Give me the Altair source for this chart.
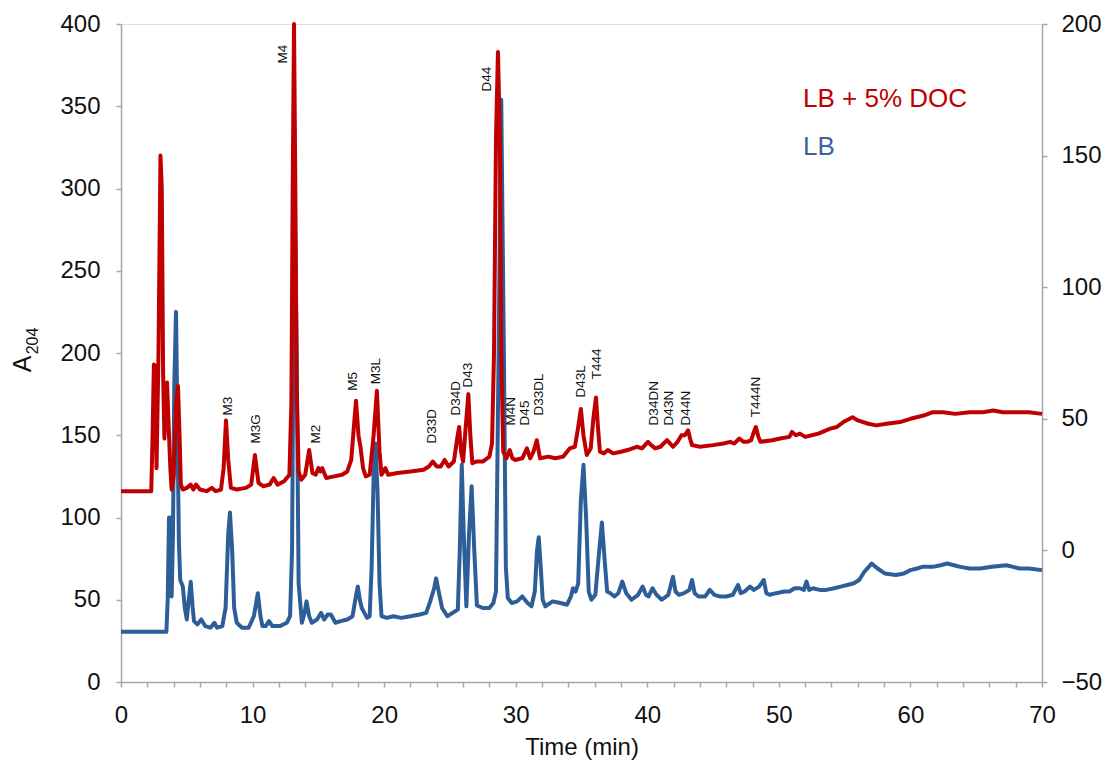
import altair as alt
import pandas as pd

# ---------------- data ----------------
red_time = [0, 2.3, 2.4, 2.5, 2.6, 2.7, 2.85, 3.0, 3.1, 3.2, 3.3, 3.4, 3.5, 3.6, 3.75, 3.85,
            4.0, 4.2, 4.33, 4.45, 4.55, 4.7, 5.0, 5.3, 5.5, 5.7, 6.0, 6.5, 6.9, 7.2, 7.6, 7.8,
            7.98, 8.15, 8.35, 8.8, 9.5, 9.9, 10.18, 10.45, 10.8, 11.3, 11.6, 11.9, 12.4, 12.8,
            12.95, 13.05, 13.15, 13.25, 13.35, 13.5, 13.7, 14.0, 14.3, 14.55, 14.8, 15.0, 15.15,
            15.3, 15.6, 16.2, 16.8, 17.2, 17.5, 17.86, 18.05, 18.2, 18.4, 18.6, 18.9, 19.2, 19.45,
            19.65, 19.8, 20.1, 20.3, 21, 22, 23, 23.4, 23.7, 24.0, 24.3, 24.6, 24.9, 25.3, 25.55,
            25.7, 25.85, 26.0, 26.2, 26.4, 26.55, 26.7, 27.0, 27.5, 28.0, 28.2, 28.35, 28.5, 28.65,
            28.8, 28.9, 29.05, 29.3, 29.55, 29.75, 29.95, 30.5, 30.85, 31.1, 31.35, 31.6, 31.85,
            32.5, 33.0, 33.6, 34.1, 34.5, 34.75, 34.95, 35.15, 35.4, 35.7, 35.9, 36.1, 36.25, 36.4,
            36.7, 37.0, 37.4, 38.0, 38.5, 39.2, 39.6, 40.05, 40.3, 40.6, 41.0, 41.5, 41.95, 42.3,
            42.6, 42.85, 43.1, 43.25, 43.4, 44.0, 45.0, 45.8, 46.3, 46.6, 47.0, 47.3, 47.6, 47.9,
            48.1, 48.25, 48.45, 48.6, 49.5, 50.1, 50.8, 51.0, 51.3, 51.6, 52.0, 52.5, 53.0, 53.9,
            54.4, 54.9, 55.6, 56.0, 56.8, 57.4, 58.2, 59.2, 60.0, 61.0, 61.7, 62.5, 63.4, 64.5,
            65.5, 66.3, 67.0, 68.0, 69.0, 70.0]
red_abs = [116, 116, 150, 193, 192, 130, 200, 320, 300, 188, 148, 165, 182, 160, 130, 117,
           125, 170, 180, 150, 120, 117, 118, 120, 117, 120, 117, 116, 118, 116, 117, 130,
           159, 135, 118, 117, 118, 120, 138, 121, 119, 120, 124, 120, 122, 126,
           170, 300, 400, 300, 180, 128, 123, 126, 141, 127, 126, 130, 128,
           130, 124, 125, 126, 128, 135, 171, 150, 143, 130, 125, 126, 150, 177,
           140, 126, 130, 126, 127, 128, 129, 131, 134, 131, 131, 135, 131, 134, 148,
           155, 140, 134, 155, 175, 150, 133, 134, 134, 137, 145, 200, 330, 383,
           330, 200, 140, 136, 141, 136, 135, 136, 142, 136, 140, 147, 136,
           137, 136, 137, 142, 143, 155, 166, 150, 138, 142, 160, 173, 155, 140,
           139, 141, 139, 140, 141, 143, 142, 146, 144, 142, 143, 147, 143, 146,
           150, 150, 153, 148, 144, 143, 144, 145, 146, 145, 148, 146, 146, 147,
           152, 155, 149, 146, 147, 148, 149, 152, 150, 151, 149, 150, 151, 154,
           155, 158, 161, 159, 157, 156, 157, 158, 160, 162, 164, 164, 163, 164,
           164, 165, 164, 164, 164, 163]

blue_time = [0, 3.45, 3.55, 3.65, 3.75, 3.85, 3.95, 4.05, 4.18, 4.3, 4.4, 4.5, 4.7, 4.85, 5.0,
             5.15, 5.3, 5.45, 5.55, 5.8, 6.1, 6.4, 6.8, 7.1, 7.3, 7.7, 7.95, 8.15, 8.28, 8.45,
             8.6, 8.8, 9.2, 9.7, 10.1, 10.4, 10.6, 10.75, 11.0, 11.25, 11.5, 12.1, 12.6, 12.85,
             13.0, 13.1, 13.22, 13.35, 13.5, 13.75, 13.95, 14.1, 14.3, 14.5, 14.9, 15.2, 15.45,
             15.7, 15.95, 16.3, 16.7, 17.2, 17.6, 17.85, 18.0, 18.15, 18.3, 18.5, 18.7, 18.9,
             19.05, 19.2, 19.35, 19.5, 19.65, 19.8, 20.2, 20.7, 21.3, 22.0, 22.7, 23.2, 23.5,
             23.8, 23.95, 24.15, 24.4, 24.8, 25.2, 25.6, 25.75, 25.9, 26.05, 26.25, 26.45, 26.65,
             26.85, 27.05, 27.5, 28.0, 28.3, 28.5, 28.7, 28.9, 29.1, 29.25, 29.4, 29.7, 30.1,
             30.5, 30.9, 31.2, 31.45, 31.62, 31.75, 31.9, 32.05, 32.25, 32.8, 33.4, 33.9, 34.2,
             34.35, 34.55, 34.75, 34.95, 35.15, 35.35, 35.55, 35.75, 36.05, 36.35, 36.55, 36.75,
             36.95, 37.2, 37.5, 37.8, 38.1, 38.4, 38.8, 39.3, 39.65, 39.9, 40.1, 40.4, 40.7,
             41.1, 41.6, 41.95, 42.15, 42.4, 42.8, 43.2, 43.4, 43.6, 43.9, 44.4, 44.75, 45.1,
             45.5, 46.0, 46.5, 46.9, 47.1, 47.4, 47.8, 48.1, 48.5, 48.85, 49.05, 49.3, 49.8,
             50.4, 50.8, 51.2, 51.6, 51.9, 52.1, 52.3, 52.6, 53.1, 53.6, 54.2, 54.7, 55.2, 55.7,
             56.1, 56.5, 57.05, 57.5, 58.05, 58.9, 59.5, 60.0, 60.5, 60.9, 61.7, 62.3, 62.8,
             63.3, 63.8, 64.5, 65.3, 66.2, 67.3, 67.8, 68.3, 69.0, 70.0]
blue_abs = [30.5, 30.5, 50, 100, 100, 52, 90, 180, 225, 150, 85, 62, 58, 45, 38,
            50, 61, 45, 37, 35, 38, 34, 33, 36, 33, 34, 45, 90, 103, 80,
            45, 36, 33, 33, 40, 54, 40, 34, 34, 37, 34, 34, 36, 40,
            80, 200, 285, 200, 60, 36, 42, 49, 40, 36, 38, 42, 38,
            41, 41, 36, 37, 38, 40, 52, 58, 50, 45, 42, 39, 40,
            70, 125, 145, 115, 60, 40, 39, 40, 39, 40, 41, 42, 49,
            57, 63, 55, 45, 40, 42, 44, 80, 132, 90, 46, 90, 119,
            80, 46.5, 45, 45, 48, 55, 200, 354, 200, 70, 51, 48, 49,
            52, 48, 46, 55, 80, 88, 70, 50, 46, 49, 48, 47, 52,
            57, 55, 60, 110, 132, 100, 55, 50, 53, 80, 97, 75,
            55, 54, 52, 54, 61, 54, 50, 53, 58, 53, 52, 57, 53,
            50, 53, 64, 55, 53, 54, 56, 62, 54, 52, 52, 56, 53,
            52, 52, 53, 59, 54, 55, 58, 56, 58, 62, 54, 53, 54,
            55, 55, 57, 57, 56, 61, 56, 57, 56, 56, 57, 58, 59, 60,
            62, 67, 72, 69, 66, 65, 66, 68, 69, 70, 70, 71, 72,
            71, 70, 69, 69, 70, 71, 70, 69, 69, 68]

peak_names = ["M3", "M3G", "M4", "M2", "M5", "M3L", "D33D", "D34D", "D43", "D44", "M4N", "D45",
              "D33DL", "D43L", "T444", "D34DN", "D43N", "D44N", "T444N"]
peak_label_time = [8.13, 10.26, 12.31, 14.82, 17.63, 19.38, 23.63, 25.46, 26.37, 27.81, 29.64,
                   30.70, 31.76, 34.95, 36.17, 40.50, 41.64, 42.93, 48.25]
peak_label_level = [162, 145, 376, 145, 177, 181, 145, 162, 179, 359, 156, 156, 162, 173, 184,
                    156, 156, 156, 161]

series_names = ["LB + 5% DOC", "LB"]
left_ticks = [0, 50, 100, 150, 200, 250, 300, 350, 400]
right_ticks = [-50, 0, 50, 100, 150, 200]
x_ticks = list(range(0, 71, 2))

RED = "#C00000"
BLUE = "#2E5E98"
GRAY = "#A6A6A6"
FONT = "Liberation Sans"

W, H = 921, 658

red_df = pd.DataFrame({"t": red_time, "a": red_abs})
blue_df = pd.DataFrame({"t": blue_time, "a": blue_abs})
peaks_df = pd.DataFrame({"name": peak_names, "t": peak_label_time, "a": peak_label_level})
right_df = pd.DataFrame({"r": right_ticks})
one = pd.DataFrame({"k": [0]})

x_axis = alt.Axis(values=x_ticks, labelExpr="datum.value % 10 == 0 ? datum.label : ''",
                  title="Time (min)", grid=False, tickSize=5, labelPadding=16,
                  labelOverlap=False, labelFlush=False, titlePadding=8,
                  domainColor=GRAY, tickColor=GRAY, domainWidth=1.5, tickWidth=1.5,
                  labelFont=FONT, labelFontSize=24, labelColor="#111",
                  titleFont=FONT, titleFontSize=24, titleFontWeight="normal",
                  titleColor="#111")
y_axis = alt.Axis(values=left_ticks, title=None, grid=False, tickSize=5,
                  labelPadding=16, domainColor=GRAY, tickColor=GRAY,
                  domainWidth=1.5, tickWidth=1.5, labelFont=FONT,
                  labelFontSize=24, labelColor="#111", labelOverlap=False)
x_scale = alt.Scale(domain=[0, 70], nice=False, zero=False)
y_scale = alt.Scale(domain=[0, 400], nice=False)


def xe():
    return alt.X("t:Q", scale=x_scale, axis=x_axis)


def ye():
    return alt.Y("a:Q", scale=y_scale, axis=y_axis)


blue_line = alt.Chart(blue_df).mark_line(color=BLUE, strokeWidth=4, strokeJoin="round").encode(
    x=xe(), y=ye())
red_line = alt.Chart(red_df).mark_line(color=RED, strokeWidth=4, strokeJoin="round").encode(
    x=xe(), y=ye())

labels = alt.Chart(peaks_df).mark_text(angle=270, align="left", baseline="middle",
                                       font=FONT, fontSize=13.5, color="#111").encode(
    x=xe(), y=ye(), text="name:N")

legend_red = alt.Chart(one).mark_text(align="left", baseline="middle", font=FONT,
                                      fontSize=26, color=RED).encode(
    x=alt.value(682), y=alt.value(75), text=alt.value(series_names[0]))
legend_blue = alt.Chart(one).mark_text(align="left", baseline="middle", font=FONT,
                                       fontSize=26, color="#3A63A0").encode(
    x=alt.value(682), y=alt.value(123), text=alt.value(series_names[1]))

ytitle_a = alt.Chart(one).mark_text(angle=270, align="center", baseline="middle", font=FONT,
                                    fontSize=25, color="#111").encode(
    x=alt.value(-98), y=alt.value(340), text=alt.value("A"))
ytitle_sub = alt.Chart(one).mark_text(angle=270, align="center", baseline="middle", font=FONT,
                                      fontSize=16, color="#111").encode(
    x=alt.value(-88), y=alt.value(317), text=alt.value("204"))

left_layer = alt.layer(blue_line, red_line, labels, legend_red, legend_blue, ytitle_a, ytitle_sub)

right_axis = alt.Chart(right_df).mark_rule(opacity=0).encode(
    y=alt.Y("r:Q", scale=alt.Scale(domain=[-50, 200], nice=False),
            axis=alt.Axis(orient="right", values=right_ticks, title=None, grid=False,
                          tickSize=5, labelPadding=14, domainColor=GRAY, tickColor=GRAY,
                          domainWidth=1.5, tickWidth=1.5, labelFont=FONT, labelFontSize=24,
                          labelColor="#111", labelOverlap=False)))

chart = alt.layer(left_layer, right_axis).resolve_scale(y="independent").properties(
    width=W, height=H,
    autosize=alt.AutoSizeParams(type="none"),
    padding={"left": 113, "top": 16, "right": 67, "bottom": 85},
).configure_view(stroke=None).configure_axisX(labelOverlap=False).configure(background="white")

chart.save("out.html", embed_options={"renderer": "svg", "actions": False})
